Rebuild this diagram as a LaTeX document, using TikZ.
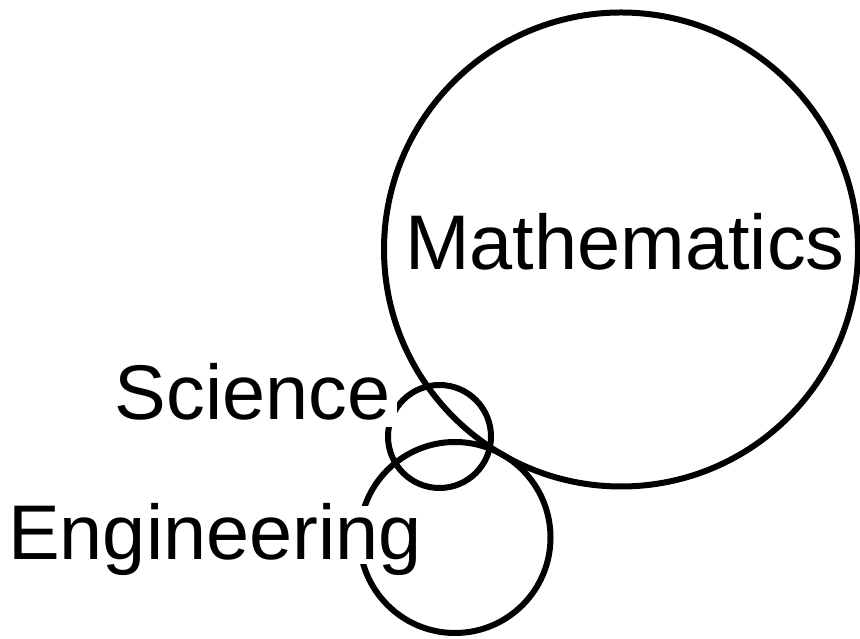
\documentclass[tikz,border=0pt]{standalone}
\usepackage{fontspec}
\setmainfont{Liberation Sans}
\begin{document}
\begin{tikzpicture}[x=1pt,y=1pt,
  ring/.style={draw=black,line width=6pt,fill=none,circle,inner sep=0pt},
  lbl/.style={inner sep=0pt,anchor=base,font=\fontsize{77.5}{90}\selectfont},
  cutlbl/.style={lbl,fill=white,text depth=0pt}]
\useasboundingbox[fill=white] (0,0) rectangle (860,639);
% circles
\node[ring,minimum size=474pt] (math) at (621,389.5) {};
\node[ring,minimum size=103pt] (sci) at (439.5,202.5) {};
\node[ring,minimum size=191pt] (eng) at (455,101.5) {};
% labels
\node[lbl] (mathlbl) at (625,369) {Mathematics};
\node[cutlbl,inner sep=7pt] (scilbl) at (252.5,219) {Science};
\node[cutlbl,inner sep=4pt,text height=49.5pt] (englbl) at (215,79) {Engineering};
\end{tikzpicture}
\end{document}
